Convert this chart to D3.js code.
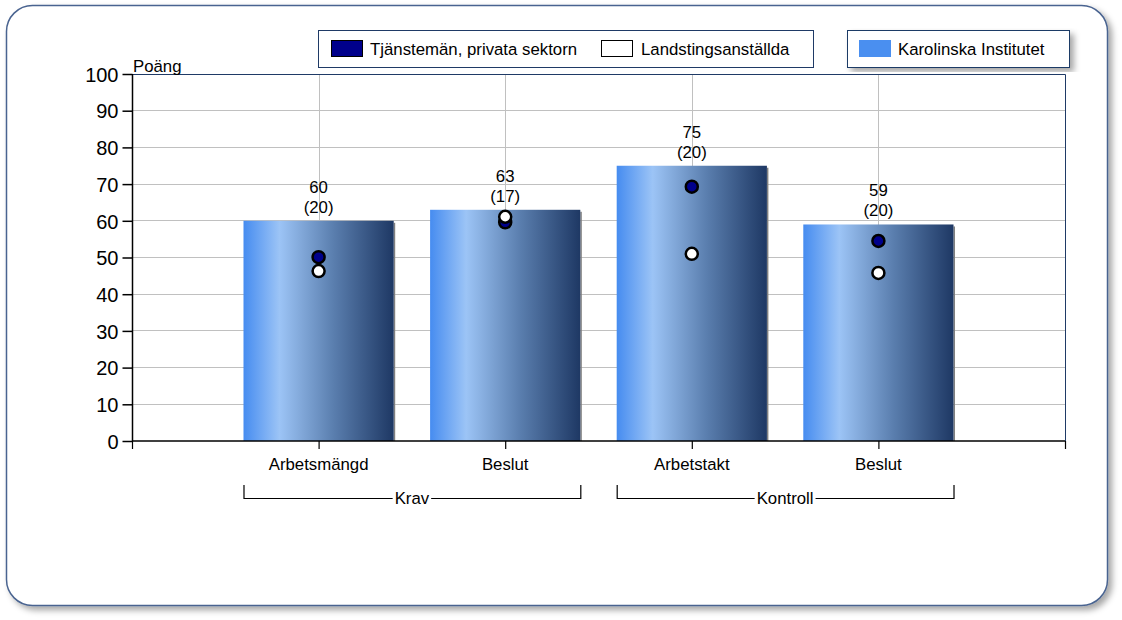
<!DOCTYPE html>
<html><head><meta charset="utf-8">
<script src="https://cdn.jsdelivr.net/npm/d3@7"></script>
<style>
body{margin:0;background:#fff;}
svg{display:block;font-family:Arial,"Liberation Sans",sans-serif;}
</style></head>
<body>
<svg id="chart" width="1122" height="620"></svg>
<script>
const categories = ["Arbetsmängd","Beslut","Arbetstakt","Beslut"];
const groups = [{name:"Krav", from:0, to:1},{name:"Kontroll", from:2, to:3}];
const kiValues = [60,63,75,59];
const kiCounts = [20,17,20,20];
const tjanstemanValues = [50.1,59.6,69.3,54.5];
const landstingValues = [46.3,61.1,51.0,45.8];
const yTicks = [0,10,20,30,40,50,60,70,80,90,100];
const seriesNames = ["Tjänstemän, privata sektorn","Landstingsanställda","Karolinska Institutet"];

const FS = 16.8;
const svg = d3.select("#chart");
const defs = svg.append("defs");
const f = defs.append("filter").attr("id","shadow").attr("x","-5%").attr("y","-5%").attr("width","115%").attr("height","115%");
f.append("feDropShadow").attr("dx",4).attr("dy",4).attr("stdDeviation",3).attr("flood-color","#000").attr("flood-opacity",0.35);
const g = defs.append("linearGradient").attr("id","barGrad").attr("x1","0").attr("x2","1").attr("y1","0").attr("y2","0");
g.append("stop").attr("offset","0%").attr("stop-color","#468cf0");
g.append("stop").attr("offset","24%").attr("stop-color","#9cc4f6");
g.append("stop").attr("offset","60%").attr("stop-color","#5a7eae");
g.append("stop").attr("offset","100%").attr("stop-color","#1e3864");

// outer frame
svg.append("rect").attr("x",6.5).attr("y",5.5).attr("width",1101).attr("height",600)
  .attr("rx",26).attr("ry",26).attr("fill","#fff").attr("stroke","#4a6490").attr("stroke-width",1.5)
  .attr("filter","url(#shadow)");

const L=132, R=1065, T=74, B=441;
const x = d3.scaleLinear().domain([0,5]).range([L,R]);
const y = d3.scaleLinear().domain([0,100]).range([B,T]);
const step = x(1)-x(0);
const bw = step*0.805;

// gridlines
svg.append("g").selectAll("line").data(yTicks.filter(d=>d>0)).join("line")
  .attr("x1",L).attr("x2",R).attr("y1",d=>y(d)).attr("y2",d=>y(d))
  .attr("stroke","#c0c0c0").attr("stroke-width",1).attr("shape-rendering","crispEdges");
svg.append("g").selectAll("line").data(categories).join("line")
  .attr("x1",(d,i)=>Math.round(x(i+1))+0.5).attr("x2",(d,i)=>Math.round(x(i+1))+0.5).attr("y1",T).attr("y2",B)
  .attr("stroke","#c0c0c0").attr("stroke-width",1);
// plot border top/right
svg.append("path").attr("d",`M${L},${T+0.5}H${R+0.5}V${B}`).attr("fill","none").attr("stroke","#1f3a66").attr("stroke-width",1);

// bars
svg.append("g").selectAll("rect.sh").data(kiValues).join("rect")
  .attr("x",(d,i)=>x(i+1)+bw/2).attr("y",d=>y(d)+2).attr("width",1.5).attr("height",d=>B-y(d)-2).attr("fill","#808080");
svg.append("g").selectAll("rect.bar").data(kiValues).join("rect")
  .attr("x",(d,i)=>x(i+1)-bw/2).attr("y",d=>y(d)).attr("width",bw).attr("height",d=>B-y(d)).attr("fill","url(#barGrad)");

// value labels
const lbl = svg.append("g").attr("font-size",FS).attr("text-anchor","middle").attr("fill","#000");
kiValues.forEach((v,i)=>{
  lbl.append("text").attr("x",x(i+1)).attr("y",y(v)-28).text(v);
  lbl.append("text").attr("x",x(i+1)).attr("y",y(v)-8).text("("+kiCounts[i]+")");
});

// points
svg.append("g").selectAll("circle").data(tjanstemanValues).join("circle")
  .attr("cx",(d,i)=>x(i+1)).attr("cy",d=>y(d)).attr("r",6).attr("fill","#00008b").attr("stroke","#000").attr("stroke-width",2.5);
svg.append("g").selectAll("circle").data(landstingValues).join("circle")
  .attr("cx",(d,i)=>x(i+1)).attr("cy",d=>y(d)).attr("r",6).attr("fill","#fff").attr("stroke","#000").attr("stroke-width",2.5);

// y axis
const ya = svg.append("g").attr("transform",`translate(${L+0.5},0)`)
  .call(d3.axisLeft(y).tickValues(yTicks).tickSize(10).tickPadding(4));
ya.select(".domain").attr("stroke","#000").attr("stroke-width",1.5).attr("d",`M0,${T}V${B}`);
ya.selectAll(".tick line").attr("stroke","#000").attr("stroke-width",1.5);
ya.selectAll(".tick text").attr("font-size",20).attr("fill","#000").attr("font-family","Arial,'Liberation Sans',sans-serif").attr("dy","0.36em");

// x axis
const xa = svg.append("g").attr("transform",`translate(0,${B})`)
  .call(d3.axisBottom(x).tickValues([0,1,2,3,4,5]).tickSize(8).tickFormat(""));
xa.select(".domain").attr("stroke","#000").attr("stroke-width",1.5).attr("d",`M${L},0H${R}`);
xa.selectAll(".tick line").attr("stroke","#000").attr("stroke-width",1.2);
svg.append("g").attr("font-size",FS).attr("text-anchor","middle").selectAll("text").data(categories).join("text")
  .attr("x",(d,i)=>x(i+1)).attr("y",470).text(d=>d);

// group brackets
groups.forEach(gr=>{
  const x0 = x(gr.from+1)-bw/2, x1 = x(gr.to+1)+bw/2, mid=(x0+x1)/2;
  const tg = svg.append("g");
  const t = tg.append("text").attr("x",mid).attr("y",504).attr("text-anchor","middle").attr("font-size",FS).text(gr.name);
  const tw = t.node().getComputedTextLength()+4;
  tg.append("path").attr("d",`M${x0+0.5},485V${498.5}H${mid-tw/2}M${mid+tw/2},${498.5}H${x1+0.5}V485`)
    .attr("fill","none").attr("stroke","#000").attr("stroke-width",1.2);
});

// axis title
svg.append("text").attr("x",133).attr("y",72).attr("font-size",FS).text("Poäng");

// legends
const lg1 = svg.append("g");
lg1.append("rect").attr("x",318.5).attr("y",30.5).attr("width",495).attr("height",37).attr("fill","#fff").attr("stroke","#1f3a66").attr("stroke-width",1);
lg1.append("rect").attr("x",331.5).attr("y",40.5).attr("width",31).attr("height",16).attr("fill","#00008b").attr("stroke","#000");
lg1.append("text").attr("x",370).attr("y",54.5).attr("font-size",FS).text(seriesNames[0]);
lg1.append("rect").attr("x",601.5).attr("y",40.5).attr("width",31).attr("height",16).attr("fill","#fff").attr("stroke","#000");
lg1.append("text").attr("x",641).attr("y",54.5).attr("font-size",FS).text(seriesNames[1]);

const lg2 = svg.append("g");
lg2.append("rect").attr("x",847.5).attr("y",30.5).attr("width",222).attr("height",37).attr("fill","#fff").attr("stroke","#1f3a66").attr("stroke-width",1).attr("filter","url(#shadow)");
lg2.append("rect").attr("x",859).attr("y",40).attr("width",32).attr("height",17).attr("fill","#4a8ff0");
lg2.append("text").attr("x",898).attr("y",54.5).attr("font-size",FS).text(seriesNames[2]);
</script>
</body></html>
